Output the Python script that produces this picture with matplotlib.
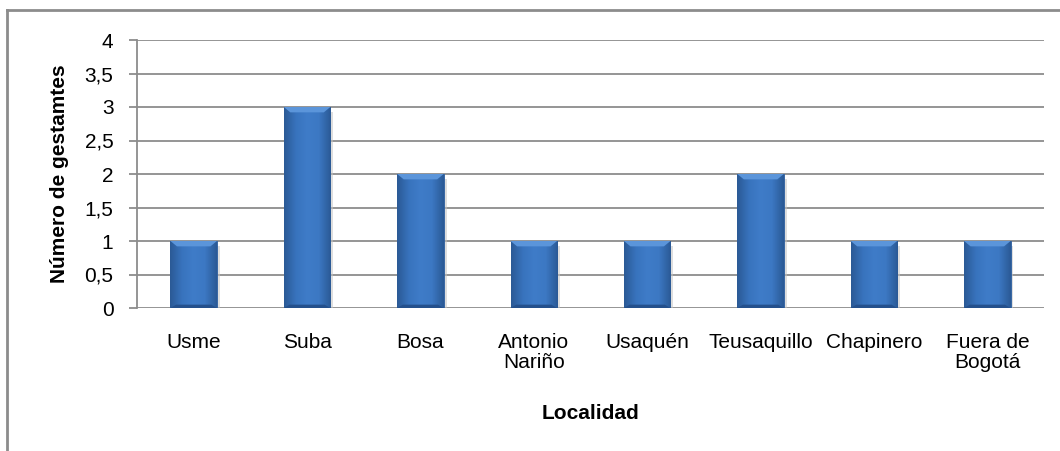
import matplotlib
matplotlib.use("Agg")
import matplotlib.pyplot as plt
import numpy as np
from matplotlib.colors import LinearSegmentedColormap

plt.rcParams['font.family'] = ['Liberation Sans', 'DejaVu Sans']

categories = ["Usme", "Suba", "Bosa", "Antonio\nNariño", "Usaquén",
              "Teusaquillo", "Chapinero", "Fuera de\nBogotá"]
values = [1, 3, 2, 1, 1, 2, 1, 1]
yticks = [0, 0.5, 1, 1.5, 2, 2.5, 3, 3.5, 4]
ytick_labels = ["0", "0,5", "1", "1,5", "2", "2,5", "3", "3,5", "4"]

W, H = 1060, 451
fig = plt.figure(figsize=(W / 100, H / 100), dpi=100)
ax = fig.add_axes([137 / W, 1 - 308 / H, (1044 - 137) / W, (308 - 40) / H])

# outer chart frame (top and left borders visible)
fig.add_artist(plt.Line2D([7 / W, 7 / W], [0, 1 - 10 / H], transform=fig.transFigure,
                          color="#8c8c8c", lw=2))
fig.add_artist(plt.Line2D([7 / W, 1], [1 - 10 / H, 1 - 10 / H], transform=fig.transFigure,
                          color="#8c8c8c", lw=2))

x = np.arange(len(categories))
bw = 0.41

# gridlines
for t in yticks:
    ax.axhline(t, color="#8c8c8c", lw=1.3, zorder=1)

# shadows
ax.bar(x + 0.015, values, width=bw + 0.02, bottom=-0.07, color="#c4c4c4", alpha=0.55, zorder=2)
bars = ax.bar(x, values, width=bw, color="#3b76c0", edgecolor="#2c5d9e", lw=0.6, zorder=3)

cmap = LinearSegmentedColormap.from_list(
    "b", ["#2b5a96", "#3873bd", "#3f7cc8", "#3c78c3", "#2b5a96"])
grad = np.linspace(0, 1, 64).reshape(1, -1)
for b in bars:
    x0, y0, w, h = b.get_x(), b.get_y(), b.get_width(), b.get_height()
    im = ax.imshow(grad, extent=[x0, x0 + w, y0, y0 + h], cmap=cmap, aspect="auto", zorder=3.5)
    im.set_clip_path(b)
    # bevel top highlight
    ax.add_patch(plt.Polygon([[x0, y0 + h], [x0 + w, y0 + h], [x0 + w * 0.86, y0 + h - 0.08],
                              [x0 + w * 0.14, y0 + h - 0.08]], closed=True,
                             color="#5b95da", zorder=3.6, lw=0))
    ax.add_patch(plt.Polygon([[x0, y0], [x0 + w, y0], [x0 + w * 0.88, y0 + 0.05],
                              [x0 + w * 0.12, y0 + 0.05]], closed=True,
                             color="#24508c", zorder=3.6, lw=0))
ax.set_xlim(-0.5, len(categories) - 0.5)
ax.set_ylim(0, 4)

for s in ["top", "right", "bottom"]:
    ax.spines[s].set_visible(False)
ax.spines["left"].set_color("#8c8c8c")
ax.spines["left"].set_linewidth(1.3)

ax.set_yticks(yticks)
ax.set_yticklabels(ytick_labels, fontsize=15)
ax.tick_params(axis="y", length=6, color="#8c8c8c", width=1.3, pad=11)
ax.set_xticks(x)
ax.set_xticklabels(categories, fontsize=15, linespacing=1.1)
ax.tick_params(axis="x", length=0, pad=18)

ax.set_ylabel("Número de gestamtes", fontsize=15, fontweight="bold", labelpad=11)
ax.set_xlabel("Localidad", fontsize=15, fontweight="bold", labelpad=23)

fig.savefig("out.png", dpi=100)
